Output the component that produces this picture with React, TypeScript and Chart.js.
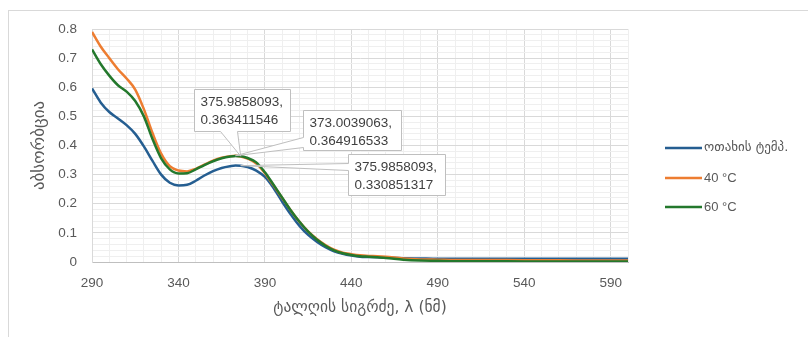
import React, { useEffect, useRef } from "react";
import { Chart, registerables } from "chart.js";

Chart.register(...registerables);

// ---- data ----
const wavelengths = [
  290, 295, 300, 305, 310, 315, 320, 325, 330, 335, 340, 345, 350, 355, 360, 365, 370,
  373.0039063, 375.9858093, 380, 385, 390, 395, 400, 405, 410, 415, 420, 425, 430, 435,
  440, 445, 450, 455, 460, 470, 480, 490, 500, 520, 540, 560, 580, 600,
];
const roomTemp = [
  0.596, 0.548, 0.515, 0.493, 0.47, 0.44, 0.397, 0.347, 0.3, 0.272, 0.263, 0.265, 0.279,
  0.297, 0.312, 0.323, 0.329, 0.3312, 0.330851317, 0.326, 0.314, 0.292, 0.254, 0.207, 0.163,
  0.124, 0.093, 0.07, 0.051, 0.037, 0.028, 0.022, 0.018, 0.017, 0.016, 0.015, 0.013,
  0.012, 0.011, 0.011, 0.011, 0.011, 0.011, 0.011, 0.011,
];
const temp40 = [
  0.79, 0.74, 0.7, 0.662, 0.63, 0.592, 0.525, 0.443, 0.372, 0.329, 0.314, 0.311, 0.32, 0.334,
  0.348, 0.358, 0.3635, 0.364916533, 0.3625, 0.355, 0.338, 0.305, 0.263, 0.22, 0.177,
  0.138, 0.105, 0.079, 0.058, 0.042, 0.032, 0.027, 0.023, 0.021, 0.02, 0.018, 0.012, 0.009,
  0.008, 0.007, 0.007, 0.006, 0.006, 0.005, 0.005,
];
const temp60 = [
  0.73, 0.68, 0.64, 0.607, 0.585, 0.553, 0.5, 0.422, 0.356, 0.318, 0.304, 0.305, 0.318,
  0.333, 0.346, 0.356, 0.362, 0.3638, 0.363411546, 0.357, 0.342, 0.308, 0.265, 0.221, 0.177,
  0.138, 0.104, 0.077, 0.056, 0.04, 0.03, 0.024, 0.02, 0.018, 0.016, 0.014, 0.008, 0.005,
  0.004, 0.003, 0.003, 0.002, 0.002, 0.002, 0.002,
];
const seriesNames = ["ოთახის ტემპ.", "40 °C", "60 °C"];
const xTickLabels = [290, 340, 390, 440, 490, 540, 590];
const yTickLabels = [0, 0.1, 0.2, 0.3, 0.4, 0.5, 0.6, 0.7, 0.8];
const xTitle = "ტალღის სიგრძე, λ (ნმ)";
const yTitle = "აბსორბცია";
const calloutSeries = [2, 1, 0];
const calloutIndex = [18, 17, 18];
const calloutLines = [
  ["375.9858093,", "0.363411546"],
  ["373.0039063,", "0.364916533"],
  ["375.9858093,", "0.330851317"],
];

// ---- styles ----
const COLORS = ["#255e91", "#ed7d31", "#23782c"];
const TXT = "#595959";
const LATIN = "'Liberation Sans', Arial, sans-serif";
const GEO = "'DejaVu Sans', sans-serif";
// callout box geometry relative to its anchor point: [dx, dy, w, h, wedge side, a, b]
const calloutGeom: any[] = [
  [-47, -67, 96, 42, "bottom", 26, 43],
  [67, -46, 98, 40, "left", 27, 37],
  [107, -12, 97, 41, "left", 9, 16],
];

const isMult = (v: number, step: number) => {
  const r = v / step;
  return Math.abs(r - Math.round(r)) < 1e-6;
};

const framePlugin = {
  id: "frame",
  beforeDraw(chart: any) {
    const ctx = chart.ctx;
    ctx.save();
    ctx.fillStyle = "#ffffff";
    ctx.fillRect(0, 0, chart.width, chart.height);
    ctx.strokeStyle = "#d9d9d9";
    ctx.lineWidth = 1;
    ctx.strokeRect(8.5, 10.5, chart.width + 10, chart.height + 10);
    ctx.restore();
  },
  afterDraw(chart: any) {
    const ctx = chart.ctx;
    const a = chart.chartArea;
    ctx.save();
    ctx.fillStyle = TXT;
    ctx.textAlign = "center";
    ctx.textBaseline = "middle";
    ctx.font = `15.5px ${GEO}`;
    ctx.fillText(xTitle, (a.left + a.right) / 2, 308);
    ctx.save();
    ctx.translate(40, (a.top + a.bottom) / 2);
    ctx.rotate(-Math.PI / 2);
    ctx.font = `17px ${GEO}`;
    ctx.fillText(yTitle, 0, 0);
    ctx.restore();
    // legend
    const ly = [148, 178, 207];
    seriesNames.forEach((n, i) => {
      ctx.strokeStyle = COLORS[i];
      ctx.lineWidth = 2.5;
      ctx.beginPath();
      ctx.moveTo(665, ly[i]);
      ctx.lineTo(702, ly[i]);
      ctx.stroke();
      ctx.fillStyle = TXT;
      ctx.textAlign = "left";
      ctx.font = `13px ${i === 0 ? GEO : LATIN}`;
      ctx.fillText(n, 704, ly[i]);
    });
    ctx.restore();
  },
};

const calloutPlugin = {
  id: "callouts",
  afterDatasetsDraw(chart: any) {
    const ctx = chart.ctx;
    ctx.save();
    calloutSeries.forEach((s, k) => {
      const pt = chart.getDatasetMeta(s).data[calloutIndex[k]];
      const px = pt.x;
      const py = pt.y;
      const [dx, dy, w, h, side, a, b] = calloutGeom[k];
      const L = Math.round(px + dx) + 0.5;
      const T = Math.round(py + dy) + 0.5;
      ctx.beginPath();
      if (side === "bottom") {
        ctx.moveTo(L, T);
        ctx.lineTo(L + w, T);
        ctx.lineTo(L + w, T + h);
        ctx.lineTo(L + b, T + h);
        ctx.lineTo(px, py);
        ctx.lineTo(L + a, T + h);
        ctx.lineTo(L, T + h);
        ctx.closePath();
      } else {
        ctx.moveTo(L, T);
        ctx.lineTo(L + w, T);
        ctx.lineTo(L + w, T + h);
        ctx.lineTo(L, T + h);
        ctx.lineTo(L, T + b);
        ctx.lineTo(px, py);
        ctx.lineTo(L, T + a);
        ctx.closePath();
      }
      ctx.fillStyle = "#ffffff";
      ctx.fill();
      ctx.strokeStyle = "#bfbfbf";
      ctx.lineWidth = 1;
      ctx.stroke();
      ctx.fillStyle = "#404040";
      ctx.font = `13.5px ${LATIN}`;
      ctx.textAlign = "left";
      ctx.textBaseline = "middle";
      ctx.fillText(calloutLines[k][0], L + 6, T + 13);
      ctx.fillText(calloutLines[k][1], L + 6, T + 31);
    });
    ctx.restore();
  },
};

export default function App() {
  const ref = useRef<HTMLCanvasElement>(null);
  useEffect(() => {
    if (!ref.current) return;
    const mk = (vals: number[]) => wavelengths.map((x, i) => ({ x, y: vals[i] }));
    const chart = new Chart(ref.current, {
      type: "line",
      data: {
        datasets: [roomTemp, temp40, temp60].map((vals, i) => ({
          label: seriesNames[i],
          data: mk(vals),
          borderColor: COLORS[i],
          backgroundColor: COLORS[i],
          borderWidth: 2.5,
          pointRadius: 0,
          cubicInterpolationMode: "monotone" as const,
          order: 3 - i,
        })),
      },
      plugins: [framePlugin, calloutPlugin],
      options: {
        animation: false,
        responsive: false,
        devicePixelRatio: 1,
        layout: { padding: { left: 0, right: 180, top: 29, bottom: 0 } },
        plugins: { legend: { display: false }, tooltip: { enabled: false } },
        scales: {
          x: {
            type: "linear",
            min: 290,
            max: 600,
            afterFit: (s: any) => {
              s.height = 75;
            },
            ticks: {
              stepSize: 10,
              maxTicksLimit: 100,
              autoSkip: false,
              maxRotation: 0,
              padding: 13,
              color: TXT,
              font: { family: LATIN, size: 13.5 },
              callback: (v: any) => {
                const n = Number(v);
                return xTickLabels.some((t) => Math.abs(t - n) < 1e-6) ? String(n) : "";
              },
            },
            grid: {
              drawTicks: false,
              color: (c: any) =>
                isMult((c.tick?.value ?? 0) - 290, 50) ? "#d9d9d9" : "#efefef",
            },
            border: { color: "#bfbfbf", width: 1 },
          },
          y: {
            min: 0,
            max: 0.8,
            afterFit: (s: any) => {
              s.width = 92;
            },
            ticks: {
              stepSize: 0.02,
              maxTicksLimit: 100,
              autoSkip: false,
              padding: 15,
              color: TXT,
              font: { family: LATIN, size: 13.5 },
              callback: (v: any) => {
                const n = Number(v);
                const hit = yTickLabels.find((t) => Math.abs(t - n) < 1e-6);
                return hit === undefined ? "" : hit === 0 ? "0" : hit.toFixed(1);
              },
            },
            grid: {
              drawTicks: false,
              color: (c: any) => (isMult(c.tick?.value ?? 0, 0.1) ? "#d9d9d9" : "#efefef"),
            },
            border: { color: "#d9d9d9", width: 1 },
          },
        },
      },
    } as any);
    return () => chart.destroy();
  }, []);
  return (
    <div style={{ position: "fixed", left: 0, top: 0, width: 808, height: 337 }}>
      <canvas ref={ref} width={808} height={337} style={{ width: 808, height: 337 }} />
    </div>
  );
}
